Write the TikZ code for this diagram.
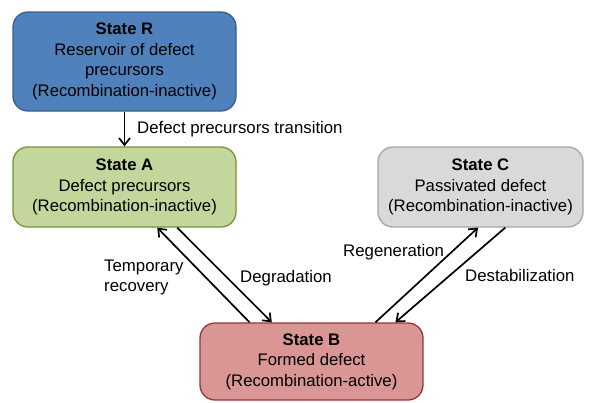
\documentclass[tikz,border=0pt]{standalone}
\usepackage{fontspec}
\setmainfont{Liberation Sans}
\usetikzlibrary{arrows.meta,calc}
\definecolor{rfill}{HTML}{4F81BD}
\definecolor{rdraw}{HTML}{385D8A}
\definecolor{afill}{HTML}{C3D69B}
\definecolor{adraw}{HTML}{77933C}
\definecolor{cfill}{HTML}{D9D9D9}
\definecolor{cdraw}{HTML}{A6A6A6}
\definecolor{bfill}{HTML}{D99694}
\definecolor{bdraw}{HTML}{953735}
\tikzset{
  statebox/.style={draw, line width=1.3pt, rounded corners=15pt, align=center, inner sep=0pt,
    font=\fontsize{16.7}{20.5}\selectfont, text=black},
  lbl/.style={font=\fontsize{16.8}{20}\selectfont, inner sep=0pt},
  arr/.style={line width=1.7pt, -{Straight Barb[length=7pt,width=11pt,line width=1.7pt]}}
}
\begin{document}
\begin{tikzpicture}[x=1pt,y=-1pt]
\useasboundingbox (0,0) rectangle (594,402);
\node[statebox, fill=rfill, draw=rdraw, minimum width=223pt, minimum height=99pt] (R) at (124.5,61.5)
  {\textbf{State R}\\Reservoir of defect\\precursors\\(Recombination-inactive)};
\node[statebox, fill=afill, draw=adraw, minimum width=223pt, minimum height=80pt] (A) at (124.5,187)
  {\textbf{State A}\\Defect precursors\\(Recombination-inactive)};
\node[statebox, fill=cfill, draw=cdraw, minimum width=205pt, minimum height=80pt] (C) at (480.5,187)
  {\textbf{State C}\\Passivated defect\\(Recombination-inactive)};
\node[statebox, fill=bfill, draw=bdraw, minimum width=223pt, minimum height=77pt] (B) at (311.5,361.5)
  {\textbf{State B}\\Formed defect\\(Recombination-active)};

\draw[arr] (R) -- (A);
\node[lbl, anchor=west] (tR) at (137,129) {Defect precursors transition};

\draw[arr] ($(B.north west)!0.224!(B.north east)$) -- ($(A.south west)!0.646!(A.south east)$);
\draw[arr] ($(A.south west)!0.735!(A.south east)$) -- ($(B.north west)!0.323!(B.north east)$);
\draw[arr] ($(B.north west)!0.785!(B.north east)$) -- ($(C.south west)!0.488!(C.south east)$);
\draw[arr] ($(C.south west)!0.62!(C.south east)$) -- ($(B.north west)!0.874!(B.north east)$);

\node[lbl, anchor=west, align=left] (tT) at (104,277) {Temporary\\recovery};
\node[lbl, anchor=west] (tD) at (240,278) {Degradation};
\node[lbl, anchor=west] (tRg) at (343,252) {Regeneration};
\node[lbl, anchor=west] (tDs) at (465,275) {Destabilization};
\end{tikzpicture}
\end{document}
